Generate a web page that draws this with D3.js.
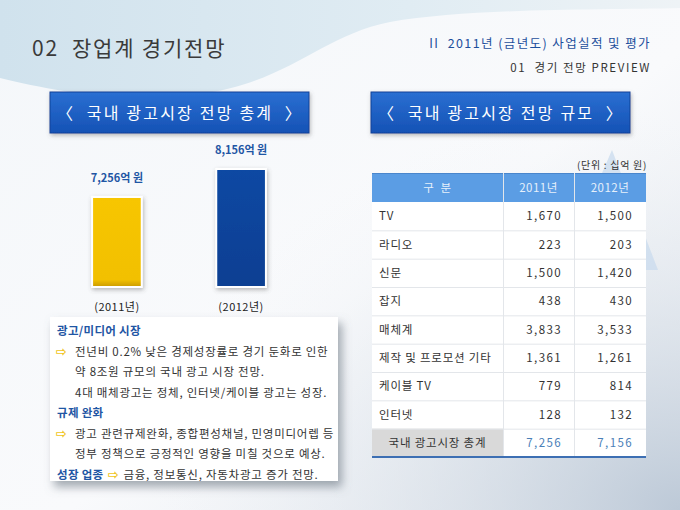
<!DOCTYPE html>
<html>
<head>
<meta charset="utf-8">
<script src="https://cdn.jsdelivr.net/npm/d3@7"></script>
<style>
  html, body { margin: 0; padding: 0; background: #fff; }
  svg { display: block; }
</style>
</head>
<body>
<div id="chart"></div>
<script>
// ── DATA ────────────────────────────────────────────────────────────────
const years      = ["2011년", "2012년"];
const yearLabels = ["(2011년)", "(2012년)"];
const totals     = [7256, 8156];          // bar labels, 억 원
const totalText  = ["7,256억 원", "8,156억 원"];

const tableHead  = ["구  분", "2011년", "2012년"];
const rowLabels  = ["TV", "라디오", "신문", "잡지", "매체계", "제작 및 프로모션 기타", "케이블 TV", "인터넷"];
const val2011    = [1670, 223, 1500, 438, 3833, 1361, 779, 128];
const val2012    = [1500, 203, 1420, 430, 3533, 1261, 814, 132];
const totalLabel = "국내 광고시장 총계";
const totalVals  = [7256, 7156];

const noteLines = [
  { kind: "head",   text: "광고/미디어 시장" },
  { kind: "bullet", text: "전년비 0.2% 낮은 경제성장률로 경기 둔화로 인한" },
  { kind: "cont",   text: "약 8조원 규모의 국내 광고 시장 전망." },
  { kind: "cont",   text: "4대 매체광고는 정체, 인터넷/케이블 광고는 성장." },
  { kind: "head",   text: "규제 완화" },
  { kind: "bullet", text: "광고 관련규제완화, 종합편성채널, 민영미디어렙 등" },
  { kind: "cont",   text: "정부 정책으로 긍정적인 영향을 미칠 것으로 예상." },
  { kind: "mixed",  head: "성장 업종", text: "금융, 정보통신, 자동차광고 증가 전망." }
];

// ── LAYOUT ──────────────────────────────────────────────────────────────
const Wd = 680, Ht = 510;
const FONT = "'Noto Sans CJK KR', 'Noto Sans', sans-serif";
const BLUE_TXT = "#1f56a4";
const ARROW = "#f0c419";

const svg = d3.select("#chart").append("svg")
  .attr("width", Wd).attr("height", Ht)
  .style("font-family", FONT);

const defs = svg.append("defs");

const bgGrad = defs.append("linearGradient").attr("id", "bg")
  .attr("x1", 0).attr("y1", 0).attr("x2", 1).attr("y2", 1);
bgGrad.append("stop").attr("offset", "0%").attr("stop-color", "#f4f7fa");
bgGrad.append("stop").attr("offset", "55%").attr("stop-color", "#f9fafc");
bgGrad.append("stop").attr("offset", "100%").attr("stop-color", "#dfe5ec");

const waveGrad = defs.append("linearGradient").attr("id", "wave")
  .attr("x1", 0).attr("y1", 0).attr("x2", 1).attr("y2", 0);
waveGrad.append("stop").attr("offset", "0%").attr("stop-color", "#d0e2ed");
waveGrad.append("stop").attr("offset", "60%").attr("stop-color", "#e0ecf3");
waveGrad.append("stop").attr("offset", "100%").attr("stop-color", "#eef3f6");

const cornerGrad = defs.append("radialGradient").attr("id", "corner")
  .attr("cx", 1).attr("cy", 1).attr("r", 0.9);
cornerGrad.append("stop").attr("offset", "0%").attr("stop-color", "#b9c6d5").attr("stop-opacity", 0.9);
cornerGrad.append("stop").attr("offset", "100%").attr("stop-color", "#ffffff").attr("stop-opacity", 0);

const btnGrad = defs.append("linearGradient").attr("id", "btn")
  .attr("x1", 0).attr("y1", 0).attr("x2", 0).attr("y2", 1);
btnGrad.append("stop").attr("offset", "0%").attr("stop-color", "#2a6fd2");
btnGrad.append("stop").attr("offset", "100%").attr("stop-color", "#1552b5");

const yelGrad = defs.append("linearGradient").attr("id", "yel")
  .attr("x1", 0).attr("y1", 0).attr("x2", 0).attr("y2", 1);
yelGrad.append("stop").attr("offset", "0%").attr("stop-color", "#f7c600");
yelGrad.append("stop").attr("offset", "92%").attr("stop-color", "#f2c000");
yelGrad.append("stop").attr("offset", "100%").attr("stop-color", "#c99a00");

const bluGrad = defs.append("linearGradient").attr("id", "blu")
  .attr("x1", 0).attr("y1", 0).attr("x2", 0).attr("y2", 1);
bluGrad.append("stop").attr("offset", "0%").attr("stop-color", "#0b48a3");
bluGrad.append("stop").attr("offset", "100%").attr("stop-color", "#083f92");

const shadow = defs.append("filter").attr("id", "shadow")
  .attr("x", "-10%").attr("y", "-10%").attr("width", "130%").attr("height", "140%");
shadow.append("feDropShadow").attr("dx", 4).attr("dy", 6).attr("stdDeviation", 5)
  .attr("flood-color", "#6a7480").attr("flood-opacity", 0.6);

const soft = defs.append("filter").attr("id", "soft")
  .attr("x", "-20%").attr("y", "-20%").attr("width", "140%").attr("height", "140%");
soft.append("feDropShadow").attr("dx", 1).attr("dy", 2).attr("stdDeviation", 2)
  .attr("flood-color", "#555").attr("flood-opacity", 0.4);

// ── BACKGROUND ──────────────────────────────────────────────────────────
svg.append("rect").attr("width", Wd).attr("height", Ht).attr("fill", "url(#bg)");
svg.append("rect").attr("width", Wd).attr("height", Ht).attr("fill", "url(#corner)");

svg.append("path")
  .attr("d", "M0,0 H680 V8 C600,10 470,8 390,22 C320,36 290,82 200,94 C120,104 50,90 0,78 Z")
  .attr("fill", "url(#wave)");

// pale triangle behind the table
svg.append("path")
  .attr("d", "M612,150 L658,270 L560,270 Z")
  .attr("fill", "#cadbed").attr("opacity", 0.75);

// ── HEADERS ─────────────────────────────────────────────────────────────
svg.append("text").attr("x", 32).attr("y", 56)
  .attr("font-size", 21).attr("fill", "#3a3a3a").attr("letter-spacing", 1.8)
  .attr("xml:space", "preserve")
  .text("02  장업계 경기전망");

svg.append("text").attr("x", 651).attr("y", 48)
  .attr("text-anchor", "end").attr("font-size", 12.5).attr("fill", "#1d4f9c")
  .attr("letter-spacing", 1.4).attr("xml:space", "preserve")
  .text("II  2011년 (금년도) 사업실적 및 평가");

svg.append("text").attr("x", 651).attr("y", 72)
  .attr("text-anchor", "end").attr("font-size", 11.5).attr("fill", "#333")
  .attr("letter-spacing", 1.6).attr("xml:space", "preserve")
  .text("01  경기 전망 PREVIEW");

const buttons = [
  { x: 50,  text: "〈  국내 광고시장 전망 총계  〉" },
  { x: 371, text: "〈  국내 광고시장 전망 규모  〉" }
];
buttons.forEach(b => {
  svg.append("rect").attr("x", b.x).attr("y", 92).attr("width", 259).attr("height", 41)
    .attr("fill", "url(#btn)").attr("stroke", "#0f4398").attr("stroke-width", 1)
    .attr("filter", "url(#soft)");
  svg.append("text").attr("x", b.x + 130).attr("y", 118.5)
    .attr("text-anchor", "middle").attr("font-size", 16).attr("fill", "#fff")
    .attr("letter-spacing", 2.2).attr("xml:space", "preserve")
    .text(b.text);
});

// ── BAR CHART ───────────────────────────────────────────────────────────
const x = d3.scaleBand().domain(years).range([30, 328])
  .paddingInner(0.6).paddingOuter(0.5);
const y = d3.scaleLinear().domain([4360, 8156]).range([287, 169]);

const barFill = ["url(#yel)", "url(#blu)"];
svg.append("g").selectAll("rect")
  .data(years)
  .join("rect")
  .attr("x", d => x(d))
  .attr("y", (d, i) => y(totals[i]))
  .attr("width", x.bandwidth())
  .attr("height", (d, i) => y.range()[0] - y(totals[i]))
  .attr("fill", (d, i) => barFill[i])
  .attr("stroke", "#ffffff").attr("stroke-width", 2)
  .attr("filter", "url(#soft)");

svg.append("g").selectAll("text")
  .data(years)
  .join("text")
  .attr("x", d => x(d) + x.bandwidth() / 2)
  .attr("y", (d, i) => y(totals[i]) - 15)
  .attr("text-anchor", "middle")
  .attr("font-size", 11).attr("font-weight", 700).attr("fill", BLUE_TXT)
  .text((d, i) => totalText[i]);

svg.append("g").selectAll("text")
  .data(years)
  .join("text")
  .attr("x", d => x(d) + x.bandwidth() / 2)
  .attr("y", 311)
  .attr("text-anchor", "middle")
  .attr("font-size", 11).attr("fill", "#222").attr("letter-spacing", 0.5)
  .text((d, i) => yearLabels[i]);

// ── NOTES PANEL ─────────────────────────────────────────────────────────
svg.append("rect").attr("x", 50).attr("y", 317).attr("width", 288).attr("height", 164)
  .attr("fill", "#ffffff").attr("filter", "url(#shadow)");

const lineY = d3.scalePoint().domain(d3.range(noteLines.length)).range([331, 475]);
const notes = svg.append("g").attr("font-size", 11.5).attr("letter-spacing", 0.75);
const arrow = (sel) => sel.attr("fill", ARROW).attr("font-size", 13).attr("font-weight", 700)
  .attr("font-family", "'DejaVu Sans', sans-serif").attr("letter-spacing", 0);
noteLines.forEach((ln, i) => {
  const yy = lineY(i) + 4;
  if (ln.kind === "head") {
    notes.append("text").attr("x", 57).attr("y", yy)
      .attr("font-weight", 700).attr("fill", BLUE_TXT).attr("letter-spacing", 0.3).text(ln.text);
  } else if (ln.kind === "bullet") {
    notes.append("text").attr("x", 56).attr("y", yy).call(arrow).text("⇨");
    notes.append("text").attr("x", 75).attr("y", yy).attr("fill", "#333").text(ln.text);
  } else if (ln.kind === "cont") {
    notes.append("text").attr("x", 75).attr("y", yy).attr("fill", "#333").text(ln.text);
  } else {
    const t = notes.append("text").attr("x", 57).attr("y", yy).attr("xml:space", "preserve");
    t.append("tspan").attr("font-weight", 700).attr("fill", BLUE_TXT).attr("letter-spacing", 0.3).text(ln.head);
    t.append("tspan").call(arrow).text(" ⇨ ");
    t.append("tspan").attr("fill", "#333").text(ln.text);
  }
});

// ── TABLE ───────────────────────────────────────────────────────────────
const colEdges = [372, 503, 574, 646];
const rows = d3.scaleBand().domain(d3.range(rowLabels.length + 1)).range([202, 457]);
const fmt = d3.format(",");
const tbl = svg.append("g").attr("font-size", 11.5);

tbl.append("text").attr("x", 647).attr("y", 169)
  .attr("text-anchor", "end").attr("font-size", 10).attr("fill", "#333")
  .attr("letter-spacing", 0.7)
  .text("(단위 : 십억 원)");

// header
tbl.append("rect").attr("x", colEdges[0]).attr("y", 173)
  .attr("width", colEdges[3] - colEdges[0]).attr("height", 29).attr("fill", "#5b9de4");
tbl.append("line").attr("x1", colEdges[0]).attr("x2", colEdges[3])
  .attr("y1", 173.5).attr("y2", 173.5).attr("stroke", "#4a86cc");
tableHead.forEach((h, i) => {
  tbl.append("text")
    .attr("x", (colEdges[i] + colEdges[i + 1]) / 2).attr("y", 192)
    .attr("text-anchor", "middle").attr("fill", "#e6f0fb")
    .attr("letter-spacing", 0.5).attr("xml:space", "preserve").text(h);
});

// body background
tbl.append("rect").attr("x", colEdges[0]).attr("y", rows.range()[0])
  .attr("width", colEdges[3] - colEdges[0]).attr("height", rows.range()[1] - rows.range()[0])
  .attr("fill", "#ffffff");
const last = rowLabels.length;
tbl.append("rect").attr("x", colEdges[0]).attr("y", rows(last))
  .attr("width", colEdges[1] - colEdges[0]).attr("height", rows.bandwidth())
  .attr("fill", "#d9d9d9");

// grid
tbl.selectAll("line.h").data(d3.range(1, last + 1)).join("line")
  .attr("x1", colEdges[0]).attr("x2", colEdges[3])
  .attr("y1", d => rows(d) + 0.5).attr("y2", d => rows(d) + 0.5)
  .attr("stroke", "#e3e6ea");
tbl.selectAll("line.v").data([1, 2]).join("line")
  .attr("x1", d => colEdges[d] + 0.5).attr("x2", d => colEdges[d] + 0.5)
  .attr("y1", 173).attr("y2", rows.range()[1])
  .attr("stroke", "#e3e6ea");
tbl.append("line").attr("x1", colEdges[0]).attr("x2", colEdges[3])
  .attr("y1", rows.range()[1]).attr("y2", rows.range()[1])
  .attr("stroke", "#3d6fb3").attr("stroke-width", 2);

// rows
const numText = (sel) => sel.attr("text-anchor", "end").attr("letter-spacing", 1.4);
rowLabels.forEach((lab, i) => {
  const yy = rows(i) + rows.bandwidth() / 2 + 4;
  tbl.append("text").attr("x", 379).attr("y", yy).attr("fill", "#333")
    .attr("letter-spacing", 0.8).text(lab);
  tbl.append("text").attr("x", 562).attr("y", yy).call(numText)
    .attr("fill", "#333").text(fmt(val2011[i]));
  tbl.append("text").attr("x", 633).attr("y", yy).call(numText)
    .attr("fill", "#333").text(fmt(val2012[i]));
});
{
  const yy = rows(last) + rows.bandwidth() / 2 + 4;
  tbl.append("text").attr("x", (colEdges[0] + colEdges[1]) / 2).attr("y", yy)
    .attr("text-anchor", "middle").attr("fill", "#333").attr("letter-spacing", 0.8)
    .text(totalLabel);
  tbl.append("text").attr("x", 562).attr("y", yy).call(numText)
    .attr("fill", "#4b7fb8").text(fmt(totalVals[0]));
  tbl.append("text").attr("x", 633).attr("y", yy).call(numText)
    .attr("fill", "#4b7fb8").text(fmt(totalVals[1]));
}
</script>
</body>
</html>
